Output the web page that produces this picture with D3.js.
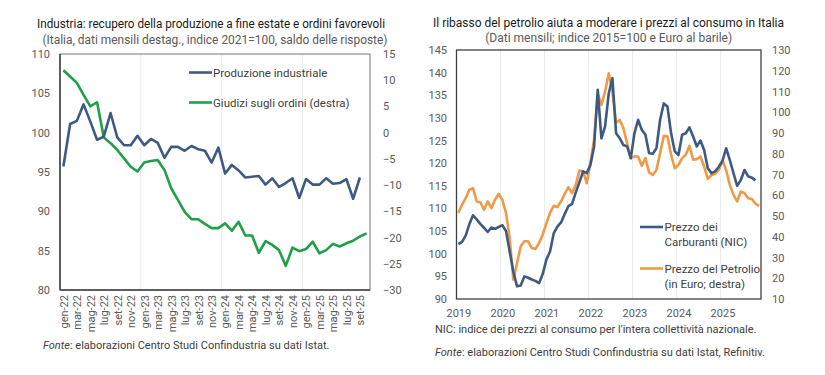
<!DOCTYPE html>
<html>
<head>
<meta charset="utf-8">
<script src="https://cdn.jsdelivr.net/npm/d3@7"></script>
<style>
  body { margin: 0; background: #fff; }
  text { font-family: Roboto, "Noto Sans", sans-serif; }
</style>
</head>
<body>
<div id="chart"></div>
<script>
// ---- data: left chart (gen-22 .. ott-25) ----
var mesi = ["gen", "feb", "mar", "apr", "mag", "giu", "lug", "ago", "set", "ott", "nov", "dic"];
var anniSx = ["22", "23", "24", "25"];
var produzione = [95.7, 101.1, 101.5, 103.6, 101.4, 99.1, 99.5, 102.5, 99.4, 98.4,
    98.4, 99.6, 98.4, 99.2, 98.7, 96.8, 98.2, 98.2, 97.7, 98.3,
    97.9, 97.7, 96.2, 98.1, 94.8, 95.9, 95.2, 94.3, 94.4, 94.5,
    93.4, 94.2, 93.1, 93.6, 94.2, 91.7, 94.1, 93.4, 93.4, 94.2,
    93.5, 93.6, 94.1, 91.6, 94.3];
var ordini = [11.9, 10.7, 9.5, 7.2, 5.0, 5.8, -0.9, -2.0, -3.3, -4.9,
    -6.5, -7.4, -5.7, -5.4, -5.2, -7.1, -10.6, -12.8, -15.1, -16.5,
    -16.5, -17.4, -18.2, -18.2, -17.3, -18.7, -17.0, -19.6, -19.6, -22.9,
    -20.7, -21.4, -22.4, -25.4, -21.9, -22.6, -22.2, -20.8, -23.0, -22.4,
    -21.2, -21.7, -21.1, -20.6, -19.8, -19.2];
var ticksSx = [80, 85, 90, 95, 100, 105, 110];
var ticksDx = [-30, -25, -20, -15, -10, -5, 0, 5, 10, 15];

// ---- data: right chart (Jan 2019 .. Nov 2025) ----
var anniDx = ["2019", "2020", "2021", "2022", "2023", "2024", "2025"];
var carburanti = [102.1, 102.6, 104.0, 106.5, 108.5, 107.6, 106.6, 105.7, 104.8, 105.8,
    105.5, 105.9, 106.3, 105.0, 100.5, 96.0, 92.8, 93.0, 95.0, 94.7,
    94.3, 94.0, 93.5, 95.5, 98.7, 100.5, 104.5, 106.0, 106.9, 108.8,
    110.5, 111.0, 113.5, 115.8, 118.2, 117.8, 119.6, 123.7, 136.2, 125.5,
    128.1, 135.4, 138.8, 126.6, 125.5, 124.0, 123.7, 121.1, 126.6, 129.6,
    127.4, 126.3, 122.2, 122.1, 123.3, 129.6, 133.2, 132.5, 126.6, 122.6,
    121.8, 126.3, 126.6, 127.9, 125.9, 123.7, 125.0, 122.9, 118.9, 117.8,
    118.2, 119.2, 120.5, 123.3, 120.7, 117.8, 115.0, 116.3, 118.5, 117.1,
    116.8, 116.2];
var petrolio = [51.4, 55.4, 58.6, 62.6, 63.4, 57.0, 56.5, 53.0, 57.0, 53.8,
    57.8, 60.7, 57.8, 51.4, 39.4, 19.3, 27.3, 35.4, 37.8, 37.8,
    34.6, 34.1, 37.0, 41.0, 46.5, 51.5, 54.9, 54.3, 57.0, 60.7,
    63.9, 61.0, 65.0, 71.9, 71.5, 65.8, 75.5, 86.7, 109.1, 103.5,
    109.9, 118.8, 110.0, 95.0, 96.3, 92.3, 85.0, 77.9, 78.7, 78.7,
    74.2, 77.9, 71.0, 69.8, 72.2, 80.3, 88.6, 88.3, 79.5, 73.0,
    74.7, 77.9, 79.5, 83.8, 77.1, 77.4, 78.7, 73.8, 67.9, 69.8,
    70.3, 72.2, 76.7, 72.2, 65.0, 60.2, 57.0, 61.8, 61.0, 58.6,
    58.2, 55.9, 54.9];
var ticksSx2 = [90, 95, 100, 105, 110, 115, 120, 125, 130, 135, 140, 145];
var ticksDx2 = [10, 20, 30, 40, 50, 60, 70, 80, 90, 100, 110, 120, 130];

var blu = "#3f5a82", verde = "#1fa048", arancio = "#f09a48";
var grigio = "#595959";

var svg = d3.select("#chart").append("svg")
    .attr("width", 825)
    .attr("height", 375);

// ================= left chart =================
var mesiSx = [];
anniSx.forEach(function (a) { mesi.forEach(function (m) { mesiSx.push(m + "-" + a); }); });
mesiSx = mesiSx.slice(0, ordini.length);

var p1 = {l: 60, r: 370, t: 54, b: 290};
var x1 = d3.scalePoint().domain(mesiSx).range([p1.l, p1.r]).padding(0.5);
var y1 = d3.scaleLinear().domain([80, 110]).range([p1.b, p1.t]);
var y1r = d3.scaleLinear().domain([-30, 15]).range([p1.b, p1.t]);

var g1 = svg.append("g");

// vertical gridlines between years
[12, 24, 36].forEach(function (i) {
    var gx = x1(mesiSx[i]) - x1.step() / 2;
    g1.append("line").attr("x1", gx).attr("x2", gx).attr("y1", p1.t).attr("y2", p1.b)
        .attr("stroke", "#ebebeb").attr("stroke-width", 1);
});

g1.append("rect").attr("x", p1.l).attr("y", p1.t).attr("width", p1.r - p1.l).attr("height", p1.b - p1.t)
    .attr("fill", "none").attr("stroke", "#8c8c8c").attr("stroke-width", 1.2);
g1.append("line").attr("x1", p1.l).attr("x2", p1.l).attr("y1", p1.t).attr("y2", p1.b)
    .attr("stroke", "#404040").attr("stroke-width", 1.5);
g1.append("line").attr("x1", p1.l).attr("x2", p1.r).attr("y1", p1.b).attr("y2", p1.b)
    .attr("stroke", "#404040").attr("stroke-width", 1.5);

g1.append("g").attr("transform", "translate(" + p1.l + ",0)")
    .call(d3.axisLeft(y1).tickValues(ticksSx).tickSize(0).tickPadding(10));
g1.append("g").attr("transform", "translate(" + p1.r + ",0)")
    .call(d3.axisRight(y1r).tickValues(ticksDx).tickSize(0).tickPadding(13));
var ax1b = g1.append("g").attr("transform", "translate(0," + p1.b + ")")
    .call(d3.axisBottom(x1).tickValues(mesiSx.filter(function (d, i) { return i % 2 == 0; })).tickSize(0));
ax1b.selectAll("text")
    .attr("transform", "rotate(-90)")
    .attr("x", -5).attr("y", 0).attr("dy", "0.35em")
    .style("text-anchor", "end");

var line1 = d3.line().x(function (d, i) { return x1(mesiSx[i]); }).y(function (d) { return y1(d); });
var line1r = d3.line().x(function (d, i) { return x1(mesiSx[i]); }).y(function (d) { return y1r(d); });

g1.append("path").datum(ordini).attr("d", line1r)
    .attr("fill", "none").attr("stroke", verde).attr("stroke-width", 2.6).attr("stroke-linejoin", "round");
g1.append("path").datum(produzione).attr("d", line1)
    .attr("fill", "none").attr("stroke", blu).attr("stroke-width", 2.6).attr("stroke-linejoin", "round");

// legend
var leg1 = [{t: "Produzione industriale", c: blu, y: 72.5}, {t: "Giudizi sugli ordini (destra)", c: verde, y: 102.5}];
leg1.forEach(function (d) {
    g1.append("line").attr("x1", 189).attr("x2", 212).attr("y1", d.y).attr("y2", d.y)
        .attr("stroke", d.c).attr("stroke-width", 2.6);
    g1.append("text").attr("x", 213).attr("y", d.y).attr("dy", "0.35em")
        .attr("font-size", 11.5).attr("fill", "#404040").text(d.t);
});

g1.append("text").attr("x", 211).attr("y", 28).attr("text-anchor", "middle")
    .attr("font-size", 12.5).attr("fill", "#1a1a1a")
    .attr("textLength", 348).attr("lengthAdjust", "spacingAndGlyphs")
    .text("Industria: recupero della produzione a fine estate e ordini favorevoli");
g1.append("text").attr("x", 215).attr("y", 44).attr("text-anchor", "middle")
    .attr("font-size", 12).attr("fill", grigio)
    .attr("textLength", 345).attr("lengthAdjust", "spacingAndGlyphs")
    .text("(Italia, dati mensili destag., indice 2021=100, saldo delle risposte)");

var f1 = g1.append("text").attr("x", 43).attr("y", 349).attr("font-size", 11).attr("fill", "#404040");
f1.append("tspan").attr("font-style", "italic").text("Fonte");
f1.append("tspan").text(": elaborazioni Centro Studi Confindustria su dati Istat.");

// ================= right chart =================
var idx = d3.range(petrolio.length);
var p2 = {l: 456.5, r: 761, t: 50, b: 299};
var x2 = d3.scalePoint().domain(idx).range([p2.l, p2.r]).padding(0.5);
var y2 = d3.scaleLinear().domain([90, 145]).range([p2.b, p2.t]);
var y2r = d3.scaleLinear().domain([10, 130]).range([p2.b, p2.t]);

var g2 = svg.append("g");

[12, 24, 36, 48, 60, 72].forEach(function (i) {
    var gx = x2(i) - x2.step() / 2;
    g2.append("line").attr("x1", gx).attr("x2", gx).attr("y1", p2.t).attr("y2", p2.b)
        .attr("stroke", "#ebebeb").attr("stroke-width", 1);
});

g2.append("rect").attr("x", p2.l).attr("y", p2.t).attr("width", p2.r - p2.l).attr("height", p2.b - p2.t)
    .attr("fill", "none").attr("stroke", "#404040").attr("stroke-width", 1.3);

g2.append("g").attr("transform", "translate(" + p2.l + ",0)")
    .call(d3.axisLeft(y2).tickValues(ticksSx2).tickSize(0).tickPadding(9.5));
g2.append("g").attr("transform", "translate(" + p2.r + ",0)")
    .call(d3.axisRight(y2r).tickValues(ticksDx2).tickSize(0).tickPadding(11));
g2.append("g").attr("transform", "translate(0," + p2.b + ")")
    .call(d3.axisBottom(x2).tickValues([0, 12, 24, 36, 48, 60, 72]).tickSize(0).tickPadding(10)
        .tickFormat(function (d) { return anniDx[d / 12]; }));

var line2 = d3.line().x(function (d, i) { return x2(i); }).y(function (d) { return y2(d); });
var line2r = d3.line().x(function (d, i) { return x2(i); }).y(function (d) { return y2r(d); });

g2.append("path").datum(petrolio).attr("d", line2r)
    .attr("fill", "none").attr("stroke", arancio).attr("stroke-width", 2.6).attr("stroke-linejoin", "round");
g2.append("path").datum(carburanti).attr("d", line2)
    .attr("fill", "none").attr("stroke", blu).attr("stroke-width", 2.6).attr("stroke-linejoin", "round");

var leg2 = [{t: ["Prezzo dei", "Carburanti (NIC)"], c: blu, y: 227},
            {t: ["Prezzo del Petrolio", "(in Euro; destra)"], c: arancio, y: 268.5}];
leg2.forEach(function (d) {
    g2.append("line").attr("x1", 640).attr("x2", 663).attr("y1", d.y).attr("y2", d.y)
        .attr("stroke", d.c).attr("stroke-width", 2.6);
    d.t.forEach(function (s, k) {
        g2.append("text").attr("x", 664.5).attr("y", d.y + k * 15).attr("dy", "0.35em")
            .attr("font-size", 11.5).attr("fill", "#404040").text(s);
    });
});

g2.append("text").attr("x", 608.5).attr("y", 27).attr("text-anchor", "middle")
    .attr("font-size", 12.5).attr("fill", "#1a1a1a")
    .attr("textLength", 351).attr("lengthAdjust", "spacingAndGlyphs")
    .text("Il ribasso del petrolio aiuta a moderare i prezzi al consumo in Italia");
g2.append("text").attr("x", 608.7).attr("y", 42).attr("text-anchor", "middle")
    .attr("font-size", 12).attr("fill", grigio)
    .attr("textLength", 247).attr("lengthAdjust", "spacingAndGlyphs")
    .text("(Dati mensili; indice 2015=100 e Euro al barile)");

g2.append("text").attr("x", 435).attr("y", 333).attr("font-size", 11).attr("fill", "#404040")
    .text("NIC: indice dei prezzi al consumo per l'intera collettività nazionale.");
var f2 = g2.append("text").attr("x", 435).attr("y", 356).attr("font-size", 11).attr("fill", "#404040");
f2.append("tspan").attr("font-style", "italic").text("Fonte");
f2.append("tspan").text(": elaborazioni Centro Studi Confindustria su dati Istat, Refinitiv.");

// common tick style
svg.selectAll(".domain").remove();
svg.selectAll(".tick text")
    .attr("fill", grigio)
    .attr("font-size", 11)
    .style("font-family", "Roboto, sans-serif");
</script>
</body>
</html>
